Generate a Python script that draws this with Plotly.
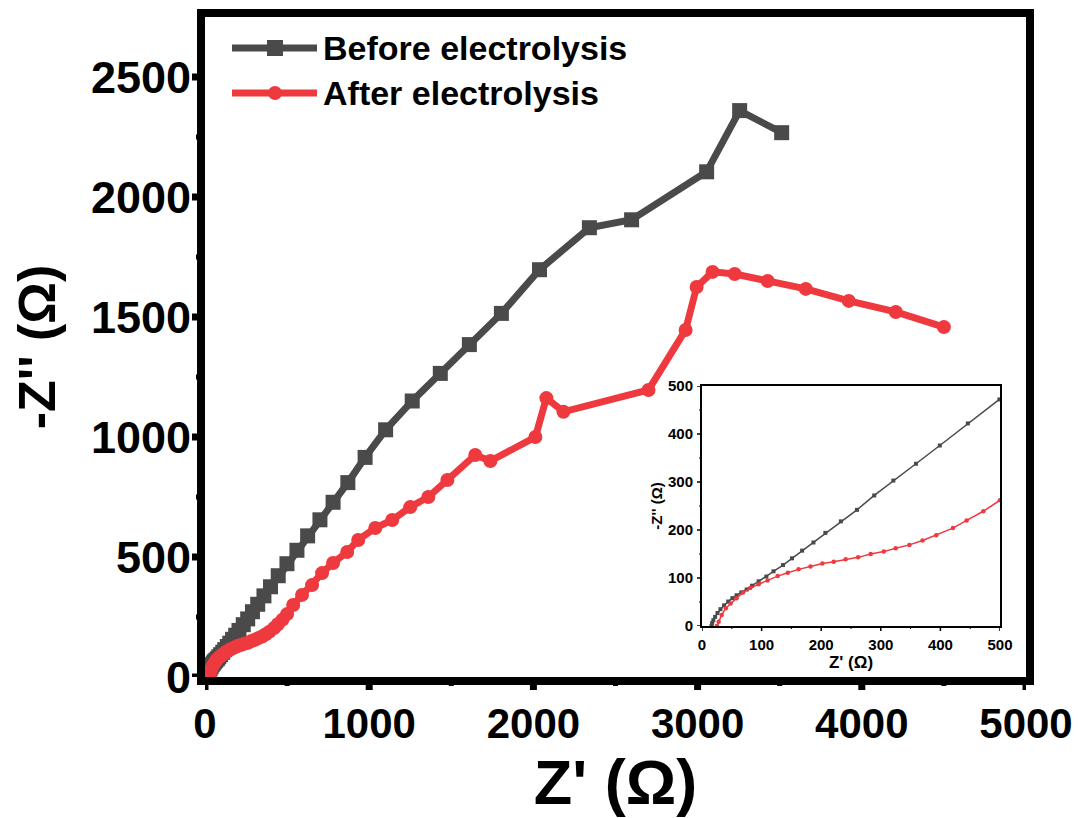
import plotly.graph_objects as go

# ---- data (Z' , -Z'') ----
before_x = [16, 17, 19, 22, 26, 31, 37, 44, 51, 58, 66, 75, 84, 95, 108, 120, 136, 151, 168, 187,
            207, 233, 260, 289, 321, 359, 399, 446, 499, 560, 625, 700, 780, 870, 975, 1100,
            1262, 1433, 1610, 1805, 2037, 2341, 2598, 3055, 3256, 3512]
before_y = [0, 6, 12, 19, 27, 35, 43, 51, 58, 64, 70, 76, 84, 93, 103, 114, 127, 141, 157, 174,
            194, 218, 242, 272, 303, 338, 376, 422, 472, 528, 588, 655, 728, 810, 915, 1030,
            1150, 1265, 1385, 1515, 1697, 1872, 1905, 2105, 2360, 2268]

after_x = [25, 28, 33, 40, 48, 58, 69, 81, 95, 110, 127, 144, 162, 182, 202, 221, 241, 262, 283,
           305, 325, 348, 370, 393, 421, 444, 472, 500, 537, 591, 652, 713, 780, 866, 933, 1037,
           1140, 1250, 1360, 1476, 1646, 1738, 2012, 2079, 2183, 2701, 2927, 2994, 3091, 3226,
           3427, 3659, 3921, 4207, 4500]
after_y = [0, 9, 23, 37, 47, 58, 70, 79, 87, 95, 104, 111, 118, 124, 130, 134, 139, 143, 150,
           155, 162, 169, 178, 189, 204, 220, 239, 262, 300, 342, 383, 433, 475, 521, 571, 621,
           654, 708, 750, 821, 925, 900, 1000, 1162, 1105, 1196, 1446, 1625, 1688, 1679,
           1650, 1617, 1567, 1521, 1458]

labels = ["Before electrolysis", "After electrolysis"]
main_xticks = [0, 1000, 2000, 3000, 4000, 5000]
main_xminor = [500, 1500, 2500, 3500, 4500]
main_yticks = [0, 500, 1000, 1500, 2000, 2500]
main_yminor = [250, 750, 1250, 1750, 2250]
inset_ticks = [0, 100, 200, 300, 400, 500]
inset_minor = [50, 150, 250, 350, 450]

GRAY = "#4a4a4a"
RED = "#ee3a3f"
FONT = "Liberation Sans, Arial, sans-serif"

fig = go.Figure()

# main traces
fig.add_trace(go.Scatter(x=before_x, y=before_y, mode="lines+markers", name=labels[0],
                         line=dict(color=GRAY, width=7),
                         marker=dict(symbol="square", size=15, color=GRAY),
                         xaxis="x", yaxis="y", cliponaxis=False))
fig.add_trace(go.Scatter(x=after_x, y=after_y, mode="lines+markers", name=labels[1],
                         line=dict(color=RED, width=7),
                         marker=dict(symbol="circle", size=14, color=RED),
                         xaxis="x", yaxis="y", cliponaxis=False))

# inset traces
fig.add_trace(go.Scatter(x=before_x, y=before_y, mode="lines+markers", name=labels[0],
                         line=dict(color=GRAY, width=1.5),
                         marker=dict(symbol="square", size=4, color=GRAY),
                         xaxis="x2", yaxis="y2", showlegend=False))
fig.add_trace(go.Scatter(x=after_x, y=after_y, mode="lines+markers", name=labels[1],
                         line=dict(color=RED, width=1.5),
                         marker=dict(symbol="circle", size=4.5, color=RED),
                         xaxis="x2", yaxis="y2", showlegend=False))

W, H = 1078, 818
L, R, T, B = 205, 52, 17, 141
pw, ph = W - L - R, H - T - B

def px2x(px):
    return (px - L) / pw

def px2y(py):
    return (H - B - py) / ph

CLEAR = "rgba(0,0,0,0)"
main_ax = dict(showline=True, linecolor="black", linewidth=8, mirror=True,
               ticks="outside", ticklen=14, tickwidth=1, tickcolor=CLEAR,
               showgrid=False, zeroline=False, tickmode="array", automargin=False)
inset_ax = dict(showline=True, linecolor="black", linewidth=2, mirror=True,
                ticks="outside", ticklen=4, tickwidth=1, tickcolor=CLEAR,
                showgrid=False, zeroline=False, tickmode="array", automargin=False,
                range=[0, 500], tickvals=inset_ticks,
                tickfont=dict(family=FONT, size=15, color="black", weight="bold"))

IX0, IX1, IY0, IY1 = px2x(702), px2x(1000), px2y(626), px2y(386)

fig.update_layout(
    template="none",
    width=W, height=H,
    margin=dict(l=L, r=R, t=T, b=B),
    paper_bgcolor="white", plot_bgcolor="white",
    showlegend=False,
    xaxis=dict(range=[0, 5000], tickvals=main_xticks, ticktext=[str(v) for v in main_xticks],
               tickfont=dict(family=FONT, size=42, color="black", weight="bold"),
               title=dict(text="Z' (Ω)", font=dict(family=FONT, size=63, color="black", weight="bold"),
                          standoff=6),
               ticklabelstandoff=-11,
               **main_ax),
    yaxis=dict(range=[0, 2750], tickvals=main_yticks, ticktext=[str(v) for v in main_yticks],
               tickfont=dict(family=FONT, size=45, color="black", weight="bold"),
               title=dict(text="-Z'' (Ω)", font=dict(family=FONT, size=52, color="black", weight="bold"),
                          standoff=22),
               ticklabelstandoff=-17,
               **main_ax),
    xaxis2=dict(domain=[IX0, IX1], anchor="y2",
                title=dict(text="Z' (Ω)", font=dict(family=FONT, size=17, color="black", weight="bold"),
                           standoff=1),
                **inset_ax),
    yaxis2=dict(domain=[IY0, IY1], anchor="x2",
                title=dict(text="-Z'' (Ω)", font=dict(family=FONT, size=15, color="black", weight="bold"),
                           standoff=2),
                **inset_ax),
)

# tick marks drawn as short pixel-sized shapes hanging outside the axes
def xtick(axref, vals, anchor, length, width):
    for v in vals:
        fig.add_shape(type="line", xref=axref, yref="paper", ysizemode="pixel", yanchor=anchor,
                      x0=v, x1=v, y0=0, y1=-length, line=dict(color="black", width=width),
                      layer="above")

def ytick(axref, vals, anchor, length, width):
    for v in vals:
        fig.add_shape(type="line", yref=axref, xref="paper", xsizemode="pixel", xanchor=anchor,
                      y0=v, y1=v, x0=0, x1=-length, line=dict(color="black", width=width),
                      layer="above")

xtick("x", main_xticks, 0, 13, 7)
xtick("x", main_xminor, 0, 9, 5)
ytick("y", main_yticks, 0, 13, 7)
ytick("y", main_yminor, 0, 9, 5)
xtick("x2", inset_ticks, IY0, 5, 1.5)
xtick("x2", inset_minor, IY0, 3, 1)
ytick("y2", inset_ticks, IX0, 5, 1.5)
ytick("y2", inset_minor, IX0, 3, 1)

# custom legend (line + marker + text)
leg_rows = [(48, GRAY, "square"), (93, RED, "circle")]
for (py, col, sym), lab in zip(leg_rows, labels):
    yp = px2y(py)
    fig.add_shape(type="line", xref="paper", yref="paper",
                  x0=px2x(232), x1=px2x(317), y0=yp, y1=yp,
                  line=dict(color=col, width=7))
    s = 8 if sym == "square" else 7
    fig.add_shape(type="rect" if sym == "square" else "circle",
                  xref="paper", yref="paper", xsizemode="pixel", ysizemode="pixel",
                  xanchor=px2x(275), yanchor=yp, x0=-s, x1=s, y0=-s, y1=s,
                  fillcolor=col, line=dict(width=0))
    fig.add_annotation(xref="paper", yref="paper", x=px2x(321), y=yp,
                       xanchor="left", yanchor="middle", showarrow=False,
                       text=lab, font=dict(family=FONT, size=34, color="black", weight="bold"))

fig.write_html("out.html")
